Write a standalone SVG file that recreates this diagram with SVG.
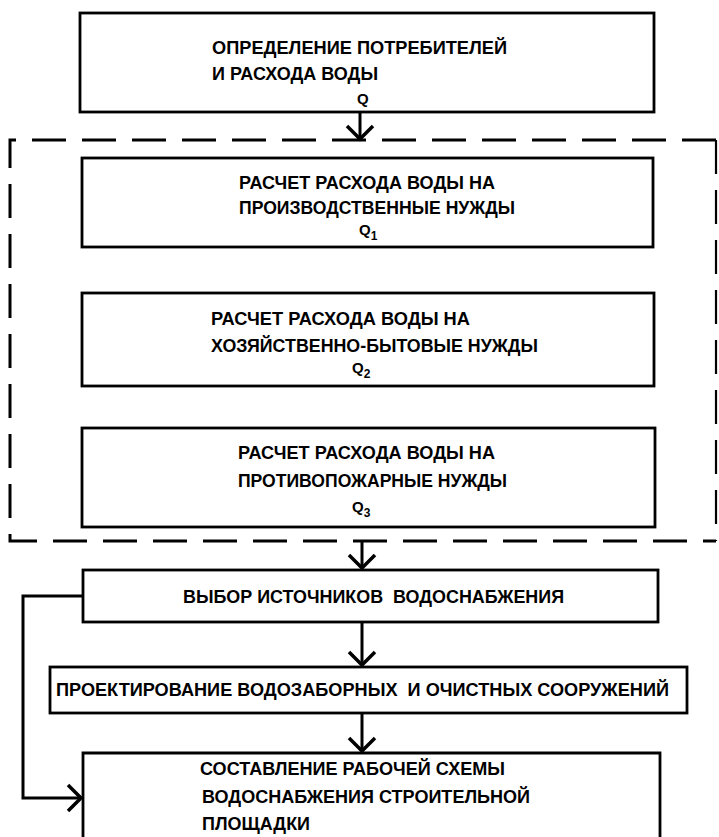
<svg xmlns="http://www.w3.org/2000/svg" width="719" height="837" viewBox="0 0 719 837">
<style>
.box{fill:#fff;stroke:#000;stroke-width:2.8}
.t{font-family:"Liberation Sans Narrow","Liberation Sans",Arial,sans-serif;font-weight:bold;font-size:17.5px;fill:#000;white-space:pre}
.q{font-family:"Liberation Sans",Arial,sans-serif;font-weight:bold;font-size:15px;fill:#000}
.sub{font-family:"Liberation Sans",Arial,sans-serif;font-weight:bold;font-size:12px;fill:#000}
.c{fill:none;stroke:#000;stroke-width:3}
.dash{fill:none;stroke:#000;stroke-width:3;stroke-dasharray:34 16}
</style>
<defs>
<marker id="ah" viewBox="-16 -16 32 32" markerWidth="32" markerHeight="32" refX="0" refY="0" orient="auto" markerUnits="userSpaceOnUse">
<path d="M-13,-13 L0,0 L-13,13" fill="none" stroke="#000" stroke-width="3.5"/>
</marker>
</defs>
<rect width="719" height="837" fill="#fff"/>
<g id="group-dashed">
<path class="dash" d="M716,140 L10,140 L10,541 L716,541"/>
<path class="dash" d="M716,140 L716,541" style="stroke-width:2.2"/>
</g>
<g id="connectors">
<path class="c" d="M360,112 L360,139" marker-end="url(#ah)"/>
<path class="c" d="M362,541 L362,568" marker-end="url(#ah)"/>
<path class="c" d="M362,622 L362,665" marker-end="url(#ah)"/>
<path class="c" d="M362,713 L362,751" marker-end="url(#ah)"/>
<path class="c" d="M83,596 L23,596 L23,798 L81,798" marker-end="url(#ah)"/>
</g>
<g id="n1">
<rect class="box" x="80" y="13" width="574" height="99"/>
<text class="t" x="212" y="54" textLength="295" lengthAdjust="spacingAndGlyphs">ОПРЕДЕЛЕНИЕ ПОТРЕБИТЕЛЕЙ</text>
<text class="t" x="212" y="80" textLength="166" lengthAdjust="spacingAndGlyphs">И РАСХОДА ВОДЫ</text>
<text class="q" x="357" y="104">Q</text>
</g>
<g id="n2">
<rect class="box" x="82" y="158" width="571" height="89"/>
<text class="t" x="239" y="189" textLength="256" lengthAdjust="spacingAndGlyphs">РАСЧЕТ РАСХОДА ВОДЫ НА</text>
<text class="t" x="239" y="214" textLength="276" lengthAdjust="spacingAndGlyphs">ПРОИЗВОДСТВЕННЫЕ НУЖДЫ</text>
<text class="q" x="359" y="235">Q<tspan class="sub" dy="5">1</tspan></text>
</g>
<g id="n3">
<rect class="box" x="82" y="293" width="572" height="93"/>
<text class="t" x="211" y="325" textLength="259" lengthAdjust="spacingAndGlyphs">РАСЧЕТ РАСХОДА ВОДЫ НА</text>
<text class="t" x="211" y="352" textLength="327" lengthAdjust="spacingAndGlyphs">ХОЗЯЙСТВЕННО-БЫТОВЫЕ НУЖДЫ</text>
<text class="q" x="352" y="373">Q<tspan class="sub" dy="5">2</tspan></text>
</g>
<g id="n4">
<rect class="box" x="82" y="428" width="573" height="99"/>
<text class="t" x="238" y="459" textLength="257" lengthAdjust="spacingAndGlyphs">РАСЧЕТ РАСХОДА ВОДЫ НА</text>
<text class="t" x="238" y="487" textLength="269" lengthAdjust="spacingAndGlyphs">ПРОТИВОПОЖАРНЫЕ НУЖДЫ</text>
<text class="q" x="352" y="512">Q<tspan class="sub" dy="5">3</tspan></text>
</g>
<g id="n5">
<rect class="box" x="83" y="570" width="575" height="52"/>
<text class="t" x="183" y="603" textLength="381" lengthAdjust="spacingAndGlyphs" xml:space="preserve">ВЫБОР ИСТОЧНИКОВ  ВОДОСНАБЖЕНИЯ</text>
</g>
<g id="n6">
<rect class="box" x="50" y="667" width="637" height="46"/>
<text class="t" x="56" y="696" textLength="613" lengthAdjust="spacingAndGlyphs" xml:space="preserve">ПРОЕКТИРОВАНИЕ ВОДОЗАБОРНЫХ  И ОЧИСТНЫХ СООРУЖЕНИЙ</text>
</g>
<g id="n7">
<path class="c" d="M83,840 L83,753 L660,753 L660,840" style="stroke-width:2.8"/>
<text class="t" x="200" y="775" textLength="305" lengthAdjust="spacingAndGlyphs">СОСТАВЛЕНИЕ РАБОЧЕЙ СХЕМЫ</text>
<text class="t" x="202" y="803" textLength="328" lengthAdjust="spacingAndGlyphs">ВОДОСНАБЖЕНИЯ СТРОИТЕЛЬНОЙ</text>
<text class="t" x="202" y="830" textLength="108" lengthAdjust="spacingAndGlyphs">ПЛОЩАДКИ</text>
</g>
</svg>
